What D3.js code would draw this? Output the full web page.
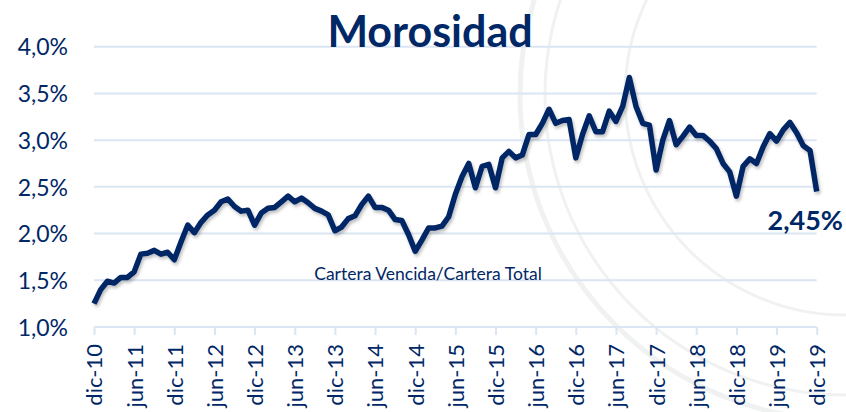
<!DOCTYPE html>
<html>
<head>
<meta charset="utf-8">
<script src="https://cdn.jsdelivr.net/npm/d3@7"></script>
<style>
  html, body { margin: 0; padding: 0; background: #fff; }
  svg { display: block; font-family: Lato, "Open Sans", sans-serif; }
</style>
</head>
<body>
<svg id="chart" width="846" height="412"></svg>
<script>
// ---- data (monthly, dic-10 .. dic-19) ----
const title = "Morosidad";
const seriesLabel = "Cartera Vencida/Cartera Total";
const lastLabel = "2,45%";
const values = [
  1.25, 1.40, 1.49, 1.47, 1.53, 1.53, 1.59, 1.78, 1.79, 1.82, 1.78, 1.80,
  1.72, 1.91, 2.09, 2.01, 2.12, 2.20, 2.25, 2.34, 2.37, 2.29, 2.24, 2.25,
  2.09, 2.22, 2.27, 2.28, 2.34, 2.40, 2.34, 2.38, 2.33, 2.27, 2.24, 2.20,
  2.03, 2.07, 2.16, 2.19, 2.31, 2.40, 2.28, 2.28, 2.25, 2.15, 2.14, 1.99,
  1.81, 1.93, 2.06, 2.06, 2.08, 2.18, 2.42, 2.61, 2.75, 2.49, 2.72, 2.74,
  2.49, 2.81, 2.88, 2.81, 2.84, 3.06, 3.06, 3.18, 3.33, 3.18, 3.21, 3.22,
  2.81, 3.06, 3.26, 3.09, 3.09, 3.31, 3.20, 3.36, 3.67, 3.36, 3.18, 3.16,
  2.68, 3.00, 3.21, 2.95, 3.04, 3.14, 3.05, 3.05, 2.99, 2.91, 2.75, 2.66,
  2.40, 2.72, 2.80, 2.75, 2.93, 3.07, 2.99, 3.11, 3.19, 3.08, 2.94, 2.89,
  2.45
];
const xTickLabels = ["dic-10","jun-11","dic-11","jun-12","dic-12","jun-13","dic-13",
  "jun-14","dic-14","jun-15","dic-15","jun-16","dic-16","jun-17","dic-17",
  "jun-18","dic-18","jun-19","dic-19"];
const yTicks = [1.0, 1.5, 2.0, 2.5, 3.0, 3.5, 4.0];

// ---- layout ----
const navy = "#002766";
const gridColor = "#dbe5f3";
const svg = d3.select("#chart");

const x = d3.scaleLinear().domain([0, values.length - 1]).range([94, 816.7]);
const y = d3.scaleLinear().domain([1, 4]).range([327, 46.7]);

// faint watermark seal
const wm = svg.append("g").attr("fill", "none").attr("stroke", "#f0f2f2");
wm.append("circle").attr("cx", 845).attr("cy", 95).attr("r", 325).attr("stroke-width", 5);
wm.append("circle").attr("cx", 845).attr("cy", 95).attr("r", 300).attr("stroke-width", 3);
wm.append("circle").attr("cx", 845).attr("cy", 95).attr("r", 220).attr("stroke-width", 3);

// grid lines
const grid = svg.append("g");
grid.selectAll("line").data(yTicks).join("line")
  .attr("x1", x(0)).attr("x2", x(values.length - 1))
  .attr("y1", d => y(d)).attr("y2", d => y(d))
  .attr("stroke", gridColor).attr("stroke-width", 2);

// y axis labels
const fmt = d => d.toFixed(1).replace(".", ",") + "%";
const yAxis = d3.axisLeft(y).tickValues(yTicks).tickFormat(fmt).tickSize(0).tickPadding(0);
const gy = svg.append("g").attr("transform", "translate(68,0)").call(yAxis);
gy.select(".domain").remove();
gy.selectAll("text").attr("fill", navy).style("font-size", "23px")
  .style("font-family", "Lato, sans-serif").attr("dy", "0.36em");

// x axis
const tickIdx = xTickLabels.map((_, i) => i * 6);
const xAxis = d3.axisBottom(x).tickValues(tickIdx)
  .tickFormat((d, i) => xTickLabels[i]).tickSize(8).tickSizeOuter(0);
const gx = svg.append("g").attr("transform", `translate(0,${y(1)})`).call(xAxis);
gx.select(".domain").remove();
gx.selectAll(".tick line").attr("stroke", gridColor).attr("stroke-width", 2);
gx.selectAll(".tick text")
  .attr("fill", navy)
  .style("font-size", "22px")
  .style("font-family", "Lato, sans-serif")
  .attr("text-anchor", "end")
  .attr("transform", "rotate(-90)")
  .attr("x", -17).attr("y", 0).attr("dy", "0.36em");

// drop shadow filter
const defs = svg.append("defs");
const f = defs.append("filter").attr("id", "shadow").attr("x", "-5%").attr("y", "-5%")
  .attr("width", "110%").attr("height", "120%");
f.append("feDropShadow").attr("dx", 1.5).attr("dy", 2.5).attr("stdDeviation", 1.5)
  .attr("flood-color", "#000").attr("flood-opacity", 0.25);

// line
const line = d3.line().x((d, i) => x(i)).y(d => y(d));
svg.append("path").datum(values)
  .attr("d", line)
  .attr("fill", "none")
  .attr("stroke", navy)
  .attr("stroke-width", 5.5)
  .attr("stroke-linejoin", "round")
  .attr("filter", "url(#shadow)");

// title
svg.append("text").attr("x", 430).attr("y", 47).attr("text-anchor", "middle")
  .attr("fill", navy).style("font-size", "43px").style("font-weight", 700)
  .text(title);

// series label
svg.append("text").attr("x", 428).attr("y", 280).attr("text-anchor", "middle")
  .attr("fill", navy).style("font-size", "17.5px")
  .text(seriesLabel);

// last value label
svg.append("text").attr("x", 843).attr("y", 230).attr("text-anchor", "end")
  .attr("fill", navy).style("font-size", "27px").style("font-weight", 700)
  .text(lastLabel);
</script>
</body>
</html>
